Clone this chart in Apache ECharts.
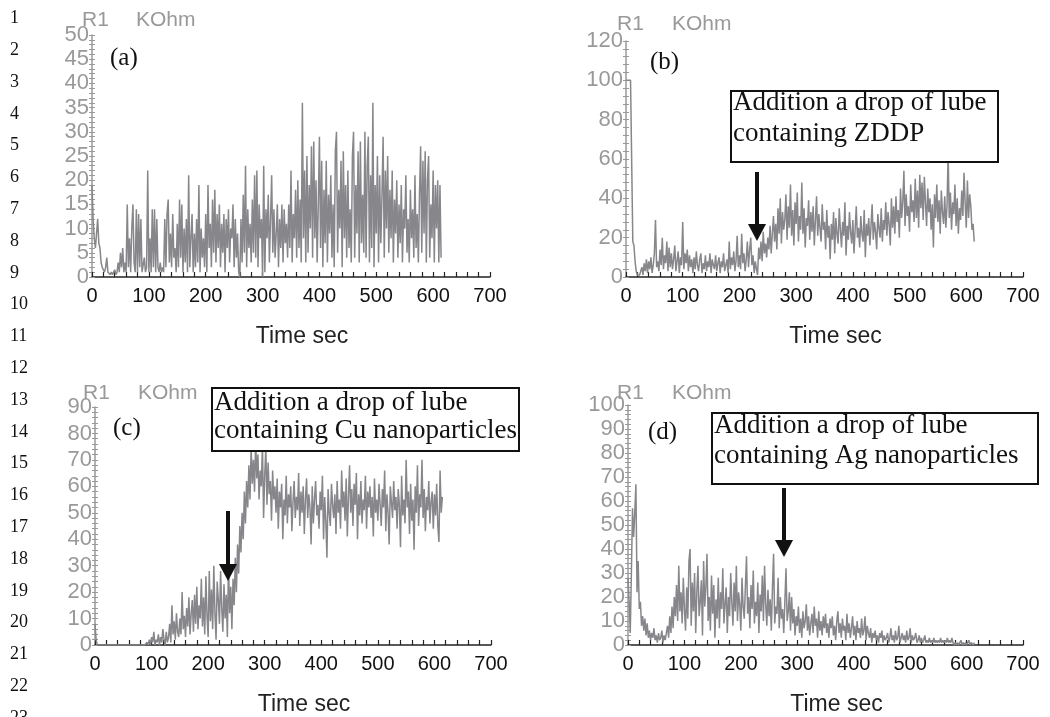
<!DOCTYPE html>
<html><head><meta charset="utf-8">
<script src="https://cdn.jsdelivr.net/npm/echarts@6/dist/echarts.min.js"></script>
<style>html,body{margin:0;padding:0;background:#fff}#c{width:1050px;height:717px}</style>
</head><body><div id="c"></div><script>
// sampling interval of the recorded signals (seconds)
const dt = 2;
const xTicks = [0, 100, 200, 300, 400, 500, 600, 700];

// (a) R1, kOhm
const seriesA = [
19,12,8,6,9, 12,7,6,3,2, 1.5,1,2,4,1, 1,0.5,1,0.5,1, 1.5,0.5,1,3,1,
5,2,6,1,3, 1,15,2,8,1, 10,15,3,1,14, 1,13,2,12,1, 1,4,1,2,22,
1,8,1,14,2, 14,1,12,2,1, 3,1,2,1,12, 2,13,16,3,9, 2,13,4,6,1,
11,2,16,4,15, 1,10,3,12,1, 21,2,8,13,1, 9,2,12,3,19, 1,10,4,8,2,
13,1,19,6,11, 2,16,5,18,3, 13,6,15,2,11, 5,13,1,12,6, 14,3,10,8,15,
2,12,4,9,1, 0,12,3,17,5, 23,2,14,6,11, 3,16,5,21,4, 22,2,15,8,12,
0,23,1,14,8, 17,3,12,21,5, 14,4,9,15,2, 12,6,15,3,14, 7,11,4,15,6,
22,3,13,8,18, 4,20,6,16,3, 36,8,22,3,25, 5,19,10,27,4, 28,8,20,3,15,
29,6,24,2,18, 7,24,3,17,9, 21,4,15,2,26, 30,5,18,10,24, 2,26,8,19,4,
22,6,14,3,25, 30,4,19,9,26, 3,28,7,17,5, 30,4,23,29,3, 21,6,36,2,19,
9,25,3,21,7, 17,29,4,22,10, 25,5,18,8,22, 3,16,9,20,4, 15,7,19,3,14,
10,21,5,12,3, 18,8,14,4,21, 6,13,3,17,27, 5,24,9,26,3, 20,25,4,15,8,
22,3,19,10,20, 3,19,4
];

// (b) R1, kOhm
const seriesB = [
100,100,100,100,100, 100,18,16,8,3, 1,2,1,1,5, 1,7,3,9,2, 8,4,10,2,6,
12,29,5,8,3, 14,6,20,4,11, 7,18,3,15,5, 12,4,9,16,3, 8,13,2,10,6,
28,4,12,7,14, 3,11,5,9,2, 10,4,13,6,3, 9,12,2,7,4, 11,3,8,5,12,
2,9,6,4,11, 3,7,10,2,8, 5,12,3,6,9, 2,18,4,10,6, 13,3,8,21,5,
11,4,22,7,12, 3,9,18,5,14, 20,6,11,2,8, 4,1,15,9,18, 8,23,12,17,10,
20,14,26,12,22, 31,18,27,14,35, 22,40,17,33,24, 29,42,19,36,25, 47,21,34,16,38,
27,43,18,31,24, 48,22,35,15,30, 26,39,19,33,23, 36,16,29,41,21, 32,25,18,37,24,
28,14,34,20,26, 9,27,19,33,12, 30,22,17,35,24, 15,28,21,38,11, 26,19,33,23,17,
29,12,24,36,20, 25,15,31,22,18, 34,10,27,21,30, 16,26,37,19,28, 23,14,32,25,20,
35,18,29,24,38, 21,33,27,16,40, 25,36,22,41,28, 34,20,45,30,38, 54,26,42,31,36,
23,47,33,39,28, 50,30,44,25,52, 35,48,29,51,38, 26,45,33,40,24, 37,15,42,30,47,
28,39,22,44,33, 27,41,25,36,63, 30,43,24,38,32, 47,26,40,22,35, 29,44,31,53,38,
25,49,30,42,36, 24,27,18
];

// (c) R1, kOhm
const seriesC = [
8,2,0,0,0, 0,0,0,0,0, 0,0,0,0,0, 0,0,0,0,0, 0,0,0,0,0,
0,0,0,0,0, 0,0,0,0,0, 0,0,0,0,0, 0,0,0,0,0, 0,1,0,2,0,
3,1,5,0,2, 1,4,0,3,1, 6,2,0,5,1, 3,8,1,15,4, 9,2,12,5,3,
10,4,20,6,11, 3,14,7,18,4, 12,17,5,19,8, 22,6,15,10,25, 7,18,4,26,11,
3,28,9,21,6, 30,12,2,24,17, 8,28,14,5,23, 10,19,3,31,12, 22,6,25,15,33,
20,38,27,45,35, 50,40,58,46,62, 52,68,55,75,61, 70,58,78,63,72, 55,66,60,76,48,
64,75,53,69,57, 62,47,66,55,60, 50,63,44,58,52, 61,40,55,49,64, 46,57,52,60,43,
54,62,48,56,51, 65,45,58,50,60, 42,55,63,48,57, 52,38,60,46,55, 62,49,53,44,58,
51,64,40,56,47, 33,59,50,45,61, 53,48,57,42,62, 50,55,44,66,52, 58,47,63,41,56,
68,50,59,45,61, 53,65,40,57,49, 62,46,55,51,64, 44,58,52,60,48, 56,41,63,50,55,
47,61,53,45,59, 52,66,43,57,50, 38,60,54,48,62, 51,56,44,59,53, 37,64,49,55,46,
70,52,58,42,61, 47,55,36,60,50, 68,45,57,52,70, 48,59,43,56,51, 62,46,54,58,44,
57,49,61,45,39, 66,50,56
];

// (d) R1, kOhm
const seriesD = [
28,18,5,30,57, 45,55,67,22,35, 15,18,8,12,6, 11,4,9,3,6, 2,5,3,7,2,
4,1,5,2,3, 6,1,4,2,5, 8,3,12,5,16, 7,20,12,25,10, 33,14,22,9,28,
15,6,24,11,35, 40,8,26,14,30, 5,22,33,12,18, 27,4,35,16,24, 38,10,20,6,29,
13,25,3,19,11, 28,7,22,15,32, 9,17,24,5,20, 12,30,18,8,26, 14,33,10,22,17,
6,28,16,11,24, 37,13,20,7,25, 15,31,9,18,12, 26,5,21,14,29, 10,33,17,8,23,
12,19,6,24,38, 9,16,13,28,7, 20,11,15,5,18, 32,10,14,22,6, 20,9,15,4,12,
8,16,5,11,3, 14,7,10,17,6, 12,4,9,13,5, 16,8,11,3,14, 6,10,4,12,7,
13,5,9,3,11, 7,12,4,8,2, 10,14,5,9,3, 11,6,8,2,13, 5,9,3,7,12,
4,8,2,10,5, 7,3,11,4,6, 12,2,8,5,3, 7,1,5,3,6, 2,4,1,5,3,
6,1,4,2,3, 5,1,3,7,2, 4,1,6,2,3, 8,1,3,5,2, 4,1,6,2,3,
7,1,4,2,3, 5,1,2,4,1, 3,1,2,4,1, 2,1,3,1,2, 1,3,1,2,1,
2,1,3,1,2, 1,2,1,3,1, 2,1,3,1,0, 1,0,1,0,1, 2,0,1,0,1,
0,1,2,0,1, 1,0,1
];

const panelLabels = ['(a)', '(b)', '(c)', '(d)'];
const yAxisUnit = ['R1', 'KOhm'];
const xAxisTitle = 'Time sec';
const noteLines = {
  b: ['Addition a drop of lube', 'containing ZDDP'],
  c: ['Addition a drop of lube', 'containing Cu nanoparticles'],
  d: ['Addition a drop of lube', 'containing Ag nanoparticles']
};
const yMaxes = [50, 120, 90, 100];
const yIntervals = [5, 20, 10, 10];

// ---- layout / style ----
const layout = [
  {left: 92, top: 35, width: 398, height: 242},
  {left: 626, top: 41, width: 397, height: 236},
  {left: 95, top: 407, width: 396, height: 239},
  {left: 628, top: 405, width: 395, height: 242}
];
const seriesList = [seriesA, seriesB, seriesC, seriesD];
const GRAY = '#87878b';
const LABEL_GRAY = '#999999';
const SANS = '"Liberation Sans", Arial, Helvetica, sans-serif';
const SERIF = '"Liberation Serif", "Times New Roman", serif';

const grids = [], xAxes = [], yAxes = [], series = [];
layout.forEach((g, i) => {
  grids.push(Object.assign({containLabel: false}, g));
  xAxes.push({
    type: 'value', gridIndex: i, position: 'bottom', min: xTicks[0], max: xTicks[xTicks.length - 1], interval: 100,
    axisLine: {lineStyle: {color: '#222', width: 1.5}},
    axisTick: {inside: true, length: 5, lineStyle: {color: '#222', width: 1.2}},
    minorTick: {show: true, splitNumber: 5, length: 5, lineStyle: {color: '#222', width: 1.2}},
    splitLine: {show: false},
    axisLabel: {color: '#111', fontSize: 20, fontFamily: SANS, margin: 9},
    name: xAxisTitle, nameLocation: 'middle', nameGap: 48,
    nameTextStyle: {color: '#222', fontSize: 23, fontFamily: SANS, padding: [0, 0, 0, 22]}
  });
  const yCommon = {
    type: 'value', gridIndex: i, position: 'left', offset: 0, min: 0, max: yMaxes[i], interval: yIntervals[i],
    splitLine: {show: false}
  };
  yAxes.push(Object.assign({}, yCommon, {
    axisLine: {show: true, lineStyle: {color: '#999', width: 1.5}},
    axisTick: {show: true, inside: false, length: 3, lineStyle: {color: '#999'}},
    minorTick: {show: true, splitNumber: 5, length: 3, lineStyle: {color: '#999'}},
    axisLabel: {color: LABEL_GRAY, fontSize: 22, fontFamily: SANS, margin: 3, padding: [6, 0, 0, 0]}
  }));
  yAxes.push(Object.assign({}, yCommon, {
    axisLine: {show: false},
    axisTick: {show: true, inside: true, length: 3, lineStyle: {color: '#999'}},
    minorTick: {show: true, splitNumber: 5, length: 3, lineStyle: {color: '#999'}},
    axisLabel: {show: false}
  }));
  series.push({
    type: 'line', xAxisIndex: i, yAxisIndex: 2 * i, showSymbol: false, symbol: 'none',
    animation: false, sampling: false,
    lineStyle: {color: GRAY, width: 1.5},
    data: seriesList[i].map((v, k) => [k * dt, v])
  });
});

// ---- annotations (page furniture) ----
const graphic = [];
for (let n = 1; n <= 23; n++) {
  graphic.push({type: 'text', x: 10, y: 18.5 + (n - 1) * 31.8,
    style: {text: String(n), font: '18px ' + SERIF, fill: '#111', verticalAlign: 'middle'}});
}
const unitPos = [[82, 136, 20], [617, 672, 24], [83, 138, 393], [617, 672, 393]];
unitPos.forEach(p => {
  graphic.push({type: 'text', x: p[0], y: p[2], style: {text: yAxisUnit[0], font: '21px ' + SANS, fill: LABEL_GRAY, verticalAlign: 'middle'}});
  graphic.push({type: 'text', x: p[1], y: p[2], style: {text: yAxisUnit[1], font: '21px ' + SANS, fill: LABEL_GRAY, verticalAlign: 'middle'}});
});
const labelPos = [[110, 58], [650, 62], [113, 428], [648, 432]];
labelPos.forEach((p, i) => {
  graphic.push({type: 'text', x: p[0], y: p[1], style: {text: panelLabels[i], font: '25px ' + SERIF, fill: '#111', verticalAlign: 'middle'}});
});
const boxes = [
  {key: 'b', x: 731, y: 91, w: 267, h: 71, tx: 733, base: [116, 147]},
  {key: 'c', x: 212, y: 388, w: 307, h: 63, tx: 214, base: [416, 444]},
  {key: 'd', x: 712, y: 413, w: 326, h: 71, tx: 714, base: [439, 469]}
];
boxes.forEach(b => {
  graphic.push({type: 'rect', shape: {x: b.x, y: b.y, width: b.w, height: b.h},
    style: {fill: '#fff', stroke: '#111', lineWidth: 2}, z: 10});
  noteLines[b.key].forEach((t, j) => {
    graphic.push({type: 'text', x: b.tx, y: b.base[j], z: 11,
      style: {text: t, font: '27px ' + SERIF, fill: '#111', verticalAlign: 'bottom'}});
  });
});
const arrows = [
  {x: 757, y0: 172, y1: 241},
  {x: 228, y0: 511, y1: 581},
  {x: 784, y0: 488, y1: 557}
];
arrows.forEach(a => {
  graphic.push({type: 'rect', shape: {x: a.x - 2, y: a.y0, width: 4, height: a.y1 - a.y0 - 14},
    style: {fill: '#111'}, z: 10});
  graphic.push({type: 'polygon', shape: {points: [[a.x - 9, a.y1 - 17], [a.x + 9, a.y1 - 17], [a.x, a.y1]]},
    style: {fill: '#111'}, z: 10});
});

const chart = echarts.init(document.getElementById('c'), null, {renderer: 'canvas'});
chart.setOption({
  backgroundColor: '#fff',
  animation: false,
  grid: grids, xAxis: xAxes, yAxis: yAxes, series: series,
  graphic: graphic
});
</script></body></html>
